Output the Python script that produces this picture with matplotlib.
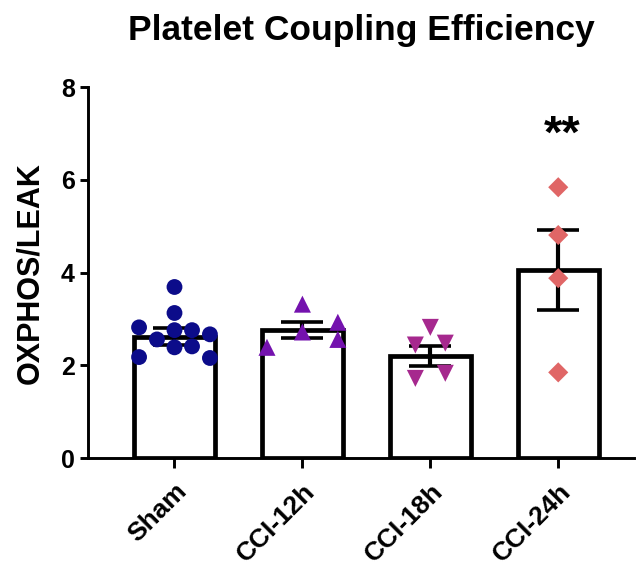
import numpy as np
import matplotlib
matplotlib.use("Agg")
from matplotlib import pyplot as plt

plt.rcParams['font.family'] = ['Liberation Sans', 'DejaVu Sans']
plt.rcParams['font.weight'] = 'bold'

# groups
groups = ["Sham", "CCI-12h", "CCI-18h", "CCI-24h"]

# individual values
sham = [3.69, 3.13, 2.82, 2.76, 2.76, 2.67, 2.56, 2.39, 2.41, 2.18, 2.16]
cci_12h = [3.32, 2.72, 2.93, 2.56, 2.39]
cci_18h = [2.82, 2.44, 2.48, 1.72, 1.83]
cci_24h = [5.84, 4.81, 3.88, 1.85]

# horizontal scatter of the dots (as drawn), in bar-slot units
sham_dx = [0.0, 0.0, -0.277, 0.0, 0.137, 0.277, -0.137, 0.0, 0.137, -0.277, 0.277]
cci_12h_dx = [0.0, 0.0, 0.277, 0.277, -0.277]
cci_18h_dx = [0.0, -0.117, 0.117, -0.117, 0.117]
cci_24h_dx = [0.0, 0.0, 0.0, 0.0]

# bar heights (mean) and error (SEM)
means = [2.62, 2.77, 2.20, 4.05]
sems = [0.19, 0.17, 0.22, 0.86]

colors = ["#0c0c8a", "#7412ae", "#a6288e", "#e06666"]
markers = ["o", "^", "v", "D"]
msizes = [130, 150, 150, 105]

fig = plt.figure(figsize=(6.36, 5.65), dpi=100)
ax = fig.add_axes([0.1384, 0.189, 0.858, 0.657])

x = np.arange(len(groups))
ax.bar(x, means, width=0.633, color="white", edgecolor="black", linewidth=3.4,
       joinstyle="miter", zorder=1)
ax.errorbar(x, means, yerr=sems, fmt="none", ecolor="black", elinewidth=3,
            capsize=15, capthick=2.6, zorder=2)

points = [sham, cci_12h, cci_18h, cci_24h]
offsets = [sham_dx, cci_12h_dx, cci_18h_dx, cci_24h_dx]
for i in range(len(groups)):
    xs = x[i] + np.array(offsets[i])
    ax.scatter(xs, points[i], s=msizes[i], marker=markers[i], color=colors[i],
               edgecolors="none", zorder=3)

# significance mark
ax.text(3.03, 6.70, "**", ha="center", va="baseline", fontsize=34, fontweight="bold")

ax.set_xlim(-0.676, 3.59)
ax.set_ylim(0, 8)
ax.set_yticks([0, 2, 4, 6, 8])
ax.set_xticks(x)
ax.set_xticklabels(groups, rotation=45, ha="right", rotation_mode="anchor",
                   fontsize=19, fontweight="bold")
for lab in ax.get_yticklabels():
    lab.set_fontsize(18)
    lab.set_fontweight("bold")

for s in ["top", "right"]:
    ax.spines[s].set_visible(False)
for s in ["left", "bottom"]:
    ax.spines[s].set_linewidth(2.1)
ax.tick_params(axis="y", width=2.1, length=5.5, pad=4)
ax.tick_params(axis="x", width=2.1, length=7, pad=8)

ax.set_ylabel("OXPHOS/LEAK", fontsize=22, fontweight="bold", labelpad=11)
ax.set_title("Platelet Coupling Efficiency", fontsize=25.5, fontweight="bold", pad=34)

plt.savefig("out.png", dpi=100)
